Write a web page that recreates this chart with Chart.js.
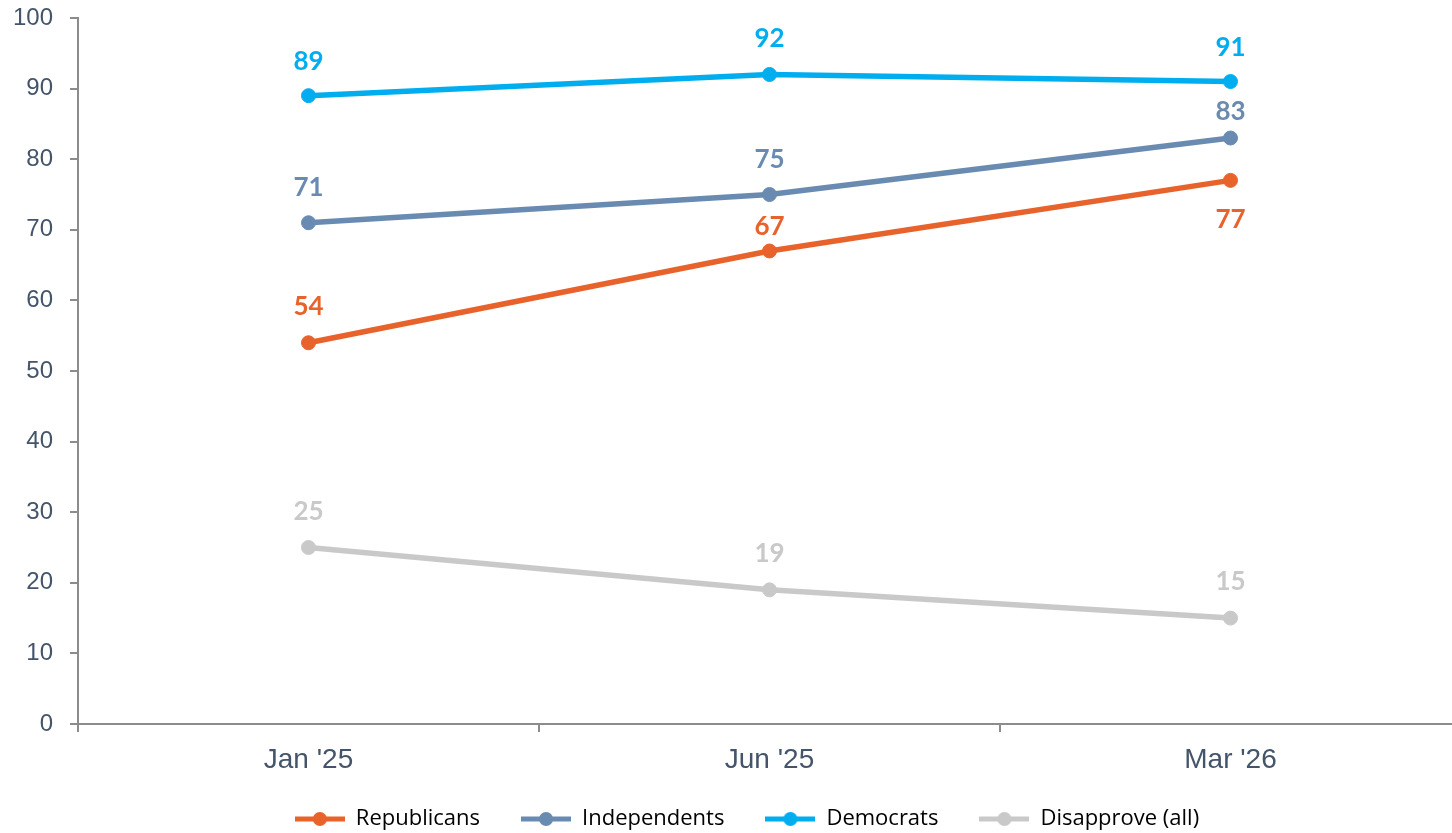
<!DOCTYPE html>
<html>
<head>
<meta charset="utf-8">
<script src="https://cdn.jsdelivr.net/npm/chart.js@4/dist/chart.umd.min.js"></script>
<style>
  html, body { margin: 0; padding: 0; background: #fff; overflow: hidden; }
  #outer { position: relative; width: 1452px; height: 833px; overflow: hidden; }
  #wrap { position: absolute; left: 0; top: 0; width: 1461px; height: 857px; }
</style>
</head>
<body>
<div id="outer"><div id="wrap"><canvas id="c"></canvas></div></div>
<script>
const categories = ["Jan '25", "Jun '25", "Mar '26"];
const republicans = [54, 67, 77];
const independents = [71, 75, 83];
const democrats = [89, 92, 91];
const disapprove = [25, 19, 15];
const yTicks = [0, 10, 20, 30, 40, 50, 60, 70, 80, 90, 100];

const COLORS = {
  rep: '#E8622C',
  ind: '#6A8BB1',
  dem: '#00AEEF',
  dis: '#C9C9C9'
};

function legendIcon(color) {
  const c = document.createElement('canvas');
  c.width = 50; c.height = 16;
  const ctx = c.getContext('2d');
  ctx.strokeStyle = color;
  ctx.lineWidth = 5;
  ctx.beginPath(); ctx.moveTo(0, 8); ctx.lineTo(50, 8); ctx.stroke();
  ctx.fillStyle = color;
  ctx.beginPath(); ctx.arc(25, 8, 7, 0, Math.PI * 2); ctx.fill();
  return c;
}

function makeDataset(label, data, color, offsets) {
  return {
    label: label,
    data: data,
    borderColor: color,
    backgroundColor: color,
    borderWidth: 5.5,
    pointRadius: 7,
    pointHoverRadius: 7,
    pointBorderWidth: 1,
    pointBackgroundColor: color,
    pointBorderColor: color,
    tension: 0,
    legendIcon: legendIcon(color),
    labelOffsets: offsets
  };
}

const labelPlugin = {
  id: 'pointLabels',
  afterDatasetsDraw(chart) {
    const ctx = chart.ctx;
    ctx.save();
    ctx.font = 'bold 26px Lato, "Open Sans", sans-serif';
    ctx.textAlign = 'center';
    ctx.textBaseline = 'middle';
    chart.data.datasets.forEach((ds, di) => {
      const meta = chart.getDatasetMeta(di);
      meta.data.forEach((pt, i) => {
        ctx.fillStyle = ds.borderColor;
        const off = ds.labelOffsets ? ds.labelOffsets[i] : -34;
        ctx.fillText(String(ds.data[i]), pt.x, pt.y + off);
      });
    });
    ctx.restore();
  }
};

const layoutFix = {
  id: 'layoutFix',
  afterLayout(chart) {
    if (chart.legend) {
      chart.legend.left += 33;
      chart.legend.top -= 17;
    }
  }
};

const AXIS = '#8C8C8C';
const TICKTXT = '#44546A';

new Chart(document.getElementById('c'), {
  type: 'line',
  data: {
    labels: categories,
    datasets: [
      makeDataset('Republicans', republicans, COLORS.rep, [-36, -24, 39]),
      makeDataset('Independents', independents, COLORS.ind, [-35, -35, -26]),
      makeDataset('Democrats', democrats, COLORS.dem, [-34, -36, -34]),
      makeDataset('Disapprove (all)', disapprove, COLORS.dis, [-36, -36, -36])
    ]
  },
  options: {
    responsive: true,
    maintainAspectRatio: false,
    animation: false,
    events: [],
    layout: { autoPadding: false, padding: { left: 0, right: 0, top: 18, bottom: 0 } },
    plugins: {
      tooltip: { enabled: false },
      legend: {
        position: 'bottom',
        align: 'center',
        labels: {
          usePointStyle: true,
          pointStyleWidth: 50,
          padding: 41,
          color: '#000000',
          font: { family: '"Open Sans", Lato, sans-serif', size: 22 },
          generateLabels(chart) {
            return chart.data.datasets.map((ds, i) => ({
              text: ds.label,
              fillStyle: ds.borderColor,
              strokeStyle: ds.borderColor,
              lineWidth: 0,
              pointStyle: ds.legendIcon,
              datasetIndex: i,
              hidden: false,
              fontColor: '#000000'
            }));
          }
        }
      }
    },
    scales: {
      x: {
        offset: true,
        afterFit(s) { s.height = 60; s.paddingLeft = 0; s.paddingRight = 0; },
        grid: {
          offset: true,
          drawOnChartArea: false,
          drawTicks: true,
          tickLength: 8,
          color: AXIS,
          lineWidth: 2
        },
        border: { display: true, color: AXIS, width: 2 },
        ticks: {
          color: TICKTXT,
          padding: 11,
          font: { family: '"Liberation Sans", Arial, sans-serif', size: 28 }
        }
      },
      y: {
        min: 0,
        max: 100,
        afterFit(s) { s.width = 78; s.paddingTop = 0; s.paddingBottom = 0; },
        afterBuildTicks(s) { s.ticks = yTicks.map(v => ({ value: v })); },
        grid: {
          drawOnChartArea: false,
          drawTicks: true,
          tickLength: 8,
          color: AXIS,
          lineWidth: 2
        },
        border: { display: true, color: AXIS, width: 2 },
        ticks: {
          color: TICKTXT,
          padding: 17,
          font: { family: '"Liberation Sans", Arial, sans-serif', size: 24 }
        }
      }
    }
  },
  plugins: [labelPlugin, layoutFix]
});
</script>
</body>
</html>
